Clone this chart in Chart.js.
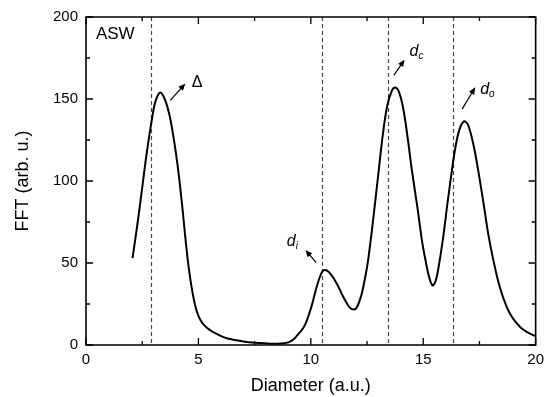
<!DOCTYPE html>
<html>
<head>
<meta charset="utf-8">
<script src="https://cdn.jsdelivr.net/npm/chart.js@4.4.1/dist/chart.umd.min.js"></script>
<style>
  html, body { margin: 0; padding: 0; background: #fff; }
  #wrap { width: 550px; height: 397px; }
</style>
</head>
<body>
<div id="wrap"><canvas id="graphique-fft" width="550" height="397"></canvas></div>
<script>
// valeurs
const diameter = [2.07, 2.3, 2.5, 2.7, 2.96, 3.1, 3.3, 3.5, 3.7, 3.84, 4.0, 4.15, 4.3, 4.4, 4.5, 4.6, 4.7, 4.8, 4.94, 5.1, 5.3, 5.47, 5.7, 6.0, 6.35, 7.0, 7.5, 8.0, 8.5, 8.8, 9.0, 9.2, 9.4, 9.67, 9.85, 10.04, 10.2, 10.35, 10.5, 10.63, 10.8, 11.0, 11.21, 11.4, 11.6, 11.75, 11.92, 12.05, 12.24, 12.4, 12.54, 12.76, 13.0, 13.2, 13.4, 13.6, 13.74, 13.9, 14.1, 14.3, 14.5, 14.75, 14.95, 15.11, 15.25, 15.41, 15.55, 15.7, 15.9, 16.07, 16.25, 16.4, 16.6, 16.81, 17.0, 17.25, 17.45, 17.69, 17.9, 18.13, 18.4, 18.72, 19.0, 19.31, 19.6, 19.97];
const fft = [53, 75, 96, 117, 140, 149, 154, 150, 141, 131, 117, 101, 82, 68, 55, 44, 35, 27.5, 20, 15, 11.5, 9.5, 7.5, 5.5, 3.8, 2.2, 1.4, 1.0, 0.8, 1.0, 1.6, 3, 6, 10.5, 16, 24, 32.5, 39.5, 44.5, 45.7, 44.5, 41, 36, 30.5, 25.5, 22.5, 21.6, 23, 30, 40, 51, 75, 104, 128, 146, 155, 157, 155, 145, 127, 106, 83, 63, 51, 42, 36.3, 39, 49, 67, 85.6, 104, 118, 131, 136.4, 134, 121, 106, 85.6, 67, 51, 35.5, 23, 16, 11, 8, 5.5];
const markers = [2.9, 10.5, 13.42, 16.32];
const xMajor = [0, 5, 10, 15, 20];
const xMinor = [2.5, 7.5, 12.5, 17.5];
const yMajor = [0, 50, 100, 150, 200];
const yMinor = [25, 75, 125, 175];

const police = "'Liberation Sans', Arial, sans-serif";
Chart.defaults.font.family = police;
Chart.defaults.color = '#000';

const fleches = [
    { from: [3.75, 149.2], to: [4.42, 159.5] },
    { from: [10.24, 50.2], to: [9.76, 58] },
    { from: [13.69, 164.4], to: [14.17, 174] },
    { from: [16.73, 143.8], to: [17.31, 157.1] },
];
const etiquettes = [
    { text: 'ASW', at: [0.44, 189.7], font: '17px ' + police, align: 'left', base: 'middle' },
    { text: 'Δ', at: [4.94, 157.1], font: '16px ' + police, align: 'center', base: 'alphabetic' },
    { text: 'd', sub: 'i', at: [8.93, 60.4] },
    { text: 'd', sub: 'c', at: [14.39, 176.3] },
    { text: 'd', sub: 'o', at: [17.53, 153] },
];

function fleche(ctx, x1, y1, x2, y2) {
    const ang = Math.atan2(y2 - y1, x2 - x1);
    const L = 7, W = 3;
    ctx.beginPath();
    ctx.moveTo(x1, y1);
    ctx.lineTo(x2 - L * 0.6 * Math.cos(ang), y2 - L * 0.6 * Math.sin(ang));
    ctx.stroke();
    ctx.beginPath();
    ctx.moveTo(x2, y2);
    ctx.lineTo(x2 - L * Math.cos(ang) + W * Math.sin(ang), y2 - L * Math.sin(ang) - W * Math.cos(ang));
    ctx.lineTo(x2 - L * Math.cos(ang) - W * Math.sin(ang), y2 - L * Math.sin(ang) + W * Math.cos(ang));
    ctx.closePath();
    ctx.fill();
}

const cadre = {
    id: 'cadre',
    beforeDatasetsDraw(chart) {
        const { ctx, chartArea: a, scales: { x } } = chart;
        ctx.save();
        ctx.strokeStyle = '#444';
        ctx.lineWidth = 1.2;
        ctx.setLineDash([4, 3]);
        for (const m of markers) {
            const px = Math.round(x.getPixelForValue(m)) + 0.5;
            ctx.beginPath();
            ctx.moveTo(px, a.top);
            ctx.lineTo(px, a.bottom);
            ctx.stroke();
        }
        ctx.restore();
    },
    afterDraw(chart) {
        const { ctx, chartArea: a, scales: { x, y } } = chart;
        ctx.save();
        ctx.setLineDash([]);
        ctx.strokeStyle = '#000';
        ctx.fillStyle = '#000';
        ctx.lineWidth = 1.6;
        ctx.beginPath();
        ctx.moveTo(a.left, a.top);
        ctx.lineTo(a.right, a.top);
        ctx.lineTo(a.right, a.bottom);
        ctx.lineTo(a.left, a.bottom);
        ctx.closePath();
        ctx.stroke();

        const tick = (vals, len) => {
            for (const v of vals) {
                const px = x.getPixelForValue(v);
                ctx.beginPath();
                ctx.moveTo(px, a.bottom); ctx.lineTo(px, a.bottom - len);
                ctx.moveTo(px, a.top); ctx.lineTo(px, a.top + len);
                ctx.stroke();
            }
        };
        const ticky = (vals, len) => {
            for (const v of vals) {
                const py = y.getPixelForValue(v);
                ctx.beginPath();
                ctx.moveTo(a.left, py); ctx.lineTo(a.left + len, py);
                ctx.moveTo(a.right, py); ctx.lineTo(a.right - len, py);
                ctx.stroke();
            }
        };
        ctx.lineWidth = 1.3;
        tick(xMajor, 7); tick(xMinor, 4);
        ticky(yMajor, 7); ticky(yMinor, 4);

        ctx.lineWidth = 1.2;
        for (const f of fleches) {
            fleche(ctx, x.getPixelForValue(f.from[0]), y.getPixelForValue(f.from[1]),
                x.getPixelForValue(f.to[0]), y.getPixelForValue(f.to[1]));
        }

        for (const e of etiquettes) {
            const px = x.getPixelForValue(e.at[0]);
            const py = y.getPixelForValue(e.at[1]);
            if (e.sub) {
                ctx.textAlign = 'left';
                ctx.textBaseline = 'alphabetic';
                ctx.font = 'italic 16px ' + police;
                ctx.fillText(e.text, px, py);
                const w = ctx.measureText(e.text).width;
                ctx.font = 'italic 10px ' + police;
                ctx.fillText(e.sub, px + w, py + 3);
            } else {
                ctx.textAlign = e.align;
                ctx.textBaseline = e.base;
                ctx.font = e.font;
                ctx.fillText(e.text, px, py);
            }
        }
        ctx.restore();
    }
};

const data = {
    datasets: [{
        label: 'FFT',
        data: diameter.map((d, i) => ({ x: d, y: fft[i] })),
        borderColor: '#000',
        borderWidth: 2,
        pointRadius: 0,
        fill: false,
        tension: 0.35,
    }]
};

const config = {
    type: 'line',
    data: data,
    options: {
        responsive: false,
        animation: false,
        layout: { padding: { top: 14, right: 11, left: 0, bottom: 0 } },
        plugins: { legend: { display: false }, tooltip: { enabled: false } },
        scales: {
            x: {
                type: 'linear',
                min: 0, max: 20,
                grid: { display: false, drawTicks: false },
                border: { display: false },
                ticks: { stepSize: 5, padding: 6, font: { size: 15 }, color: '#000' },
                title: { display: true, text: 'Diameter (a.u.)', font: { size: 18 }, color: '#000', padding: { top: 0, bottom: 0 } },
                afterFit: (scale) => { scale.height = 52; },
            },
            y: {
                min: 0, max: 200,
                grid: { display: false, drawTicks: false },
                border: { display: false },
                ticks: { stepSize: 50, padding: 8, font: { size: 15 }, color: '#000' },
                title: { display: true, text: 'FFT (arb. u.)', font: { size: 18 }, color: '#000', padding: { top: 12, bottom: 0 } },
                afterFit: (scale) => { scale.width = 86; },
            }
        }
    },
    plugins: [cadre],
};

const graph = new Chart(document.querySelector('#graphique-fft'), config);
</script>
</body>
</html>
